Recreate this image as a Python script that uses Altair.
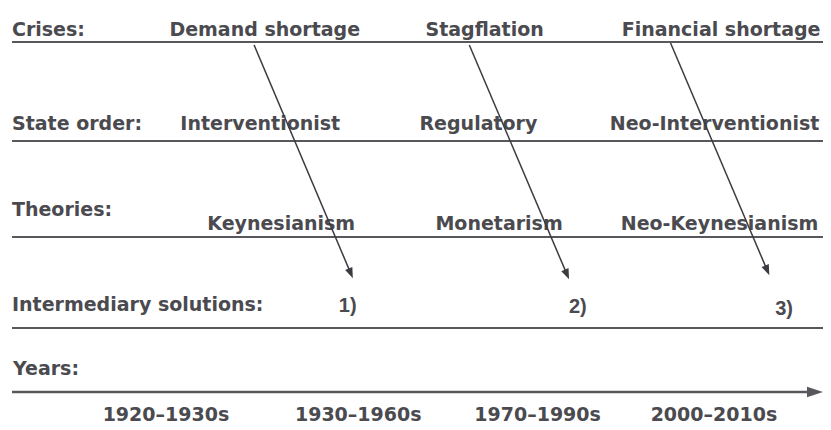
import math
import altair as alt
import pandas as pd

# ---- content ----
row_labels = ["Crises:", "State order:", "Theories:", "Intermediary solutions:", "Years:"]
row_label_x = [14, 14, 14, 14, 15]
row_label_y = [36, 130, 216, 311, 375]

cell_labels = ["Demand shortage", "Stagflation", "Financial shortage",
               "Interventionist", "Regulatory", "Neo-Interventionist",
               "Keynesianism", "Monetarism", "Neo-Keynesianism"]
cell_x = [172, 429, 626, 183, 423, 614, 210, 439, 625]
cell_y = [36, 36, 36, 130, 130, 130, 230, 230, 230]

solution_labels = ["1)", "2)", "3)"]
solution_x = [342, 573, 780]
solution_y = [312, 313, 315]

year_labels = ["1920\u20131930s", "1930\u20131960s", "1970\u20131990s", "2000\u20132010s"]
year_x = [105, 298, 478, 655]
year_y = [421, 421, 421, 421]

rule_y = [42, 141, 237, 328]
rule_x0 = 14
rule_x1 = 828

timeline_y = 392
timeline_x0 = 14
timeline_x1 = 828

arrow_x0 = [257, 473, 675]
arrow_y0 = [45, 45, 43]
arrow_x1 = [356, 573, 774]
arrow_y1 = [278, 279, 275]

TEXT = "#4a4a4f"
LINE = "#58585c"
ARROW = "#3c3c40"
FONT = "DejaVu Sans"

xs = alt.Scale(domain=[10, 828], nice=False, zero=False)
ys = alt.Scale(domain=[8, 426], nice=False, zero=False, reverse=True)

def X(f="x"):
    return alt.X(f"{f}:Q", scale=xs, axis=None)

def Y(f="y"):
    return alt.Y(f"{f}:Q", scale=ys, axis=None)

# ---- tables ----
rows_df = pd.DataFrame({"t": row_labels, "x": row_label_x, "y": row_label_y})
cells_df = pd.DataFrame({"t": cell_labels, "x": cell_x, "y": cell_y})
sol_df = pd.DataFrame({"t": solution_labels, "x": solution_x, "y": solution_y})
years_df = pd.DataFrame({"t": year_labels, "x": year_x, "y": year_y})
rules_df = pd.DataFrame({"x": [rule_x0] * len(rule_y), "x2": [rule_x1] * len(rule_y), "y": rule_y})

head_len = 5.0
arrows = []
for a, b, c, d in zip(arrow_x0, arrow_y0, arrow_x1, arrow_y1):
    dx, dy = c - a, d - b
    L = math.hypot(dx, dy)
    cx, cy = c - head_len * dx / L, d - head_len * dy / L
    arrows.append({"x": a, "y": b, "x2": cx, "y2": cy, "hx": cx, "hy": cy,
                   "ang": math.degrees(math.atan2(dy, dx))})
arrows_df = pd.DataFrame(arrows)

tl_head = 8.0
timeline_df = pd.DataFrame({"x": [timeline_x0], "x2": [timeline_x1 - tl_head], "y": [timeline_y],
                            "hx": [timeline_x1 - tl_head], "hy": [timeline_y]})

text_props = dict(align="left", baseline="alphabetic", font=FONT, fontWeight="bold",
                  fontSize=19, color=TEXT)

rows_layer = alt.Chart(rows_df).mark_text(**text_props).encode(x=X(), y=Y(), text="t:N")
cells_layer = alt.Chart(cells_df).mark_text(**text_props).encode(x=X(), y=Y(), text="t:N")
years_layer = alt.Chart(years_df).mark_text(**text_props).encode(x=X(), y=Y(), text="t:N")
sol_layer = alt.Chart(sol_df).mark_text(align="left", baseline="alphabetic", font="Liberation Sans",
                                         fontWeight="bold", fontSize=20, color=TEXT).encode(
    x=X(), y=Y(), text="t:N")

rules_layer = alt.Chart(rules_df).mark_rule(color=LINE, strokeWidth=2).encode(
    x=X(), x2="x2:Q", y=Y())

timeline_layer = alt.Chart(timeline_df).mark_rule(color=LINE, strokeWidth=2.5).encode(
    x=X(), x2="x2:Q", y=Y())
timeline_head = alt.Chart(timeline_df).mark_point(
    shape="M-1,-0.65L1,0L-1,0.65Z", filled=True, opacity=1, color=LINE, size=256, strokeWidth=0
).encode(x=X("hx"), y=Y("hy"))

arrow_lines = alt.Chart(arrows_df).mark_rule(color=ARROW, strokeWidth=1.5).encode(
    x=X(), y=Y(), x2="x2:Q", y2="y2:Q")
arrow_heads = alt.Chart(arrows_df).mark_point(
    shape="M-1,-0.75L1,0L-1,0.75Z", filled=True, opacity=1, color=ARROW, size=110, strokeWidth=0
).encode(x=X("hx"), y=Y("hy"), angle=alt.Angle("ang:Q", scale=None))

chart = alt.layer(
    rules_layer, timeline_layer, timeline_head,
    rows_layer, cells_layer, years_layer, sol_layer,
    arrow_lines, arrow_heads,
).properties(
    width=815, height=418, padding=0, autosize=alt.AutoSizeParams(type="none"),
    background="white",
).configure_view(stroke=None)

chart.save("out.html", embed_options={"renderer": "svg", "actions": False})
